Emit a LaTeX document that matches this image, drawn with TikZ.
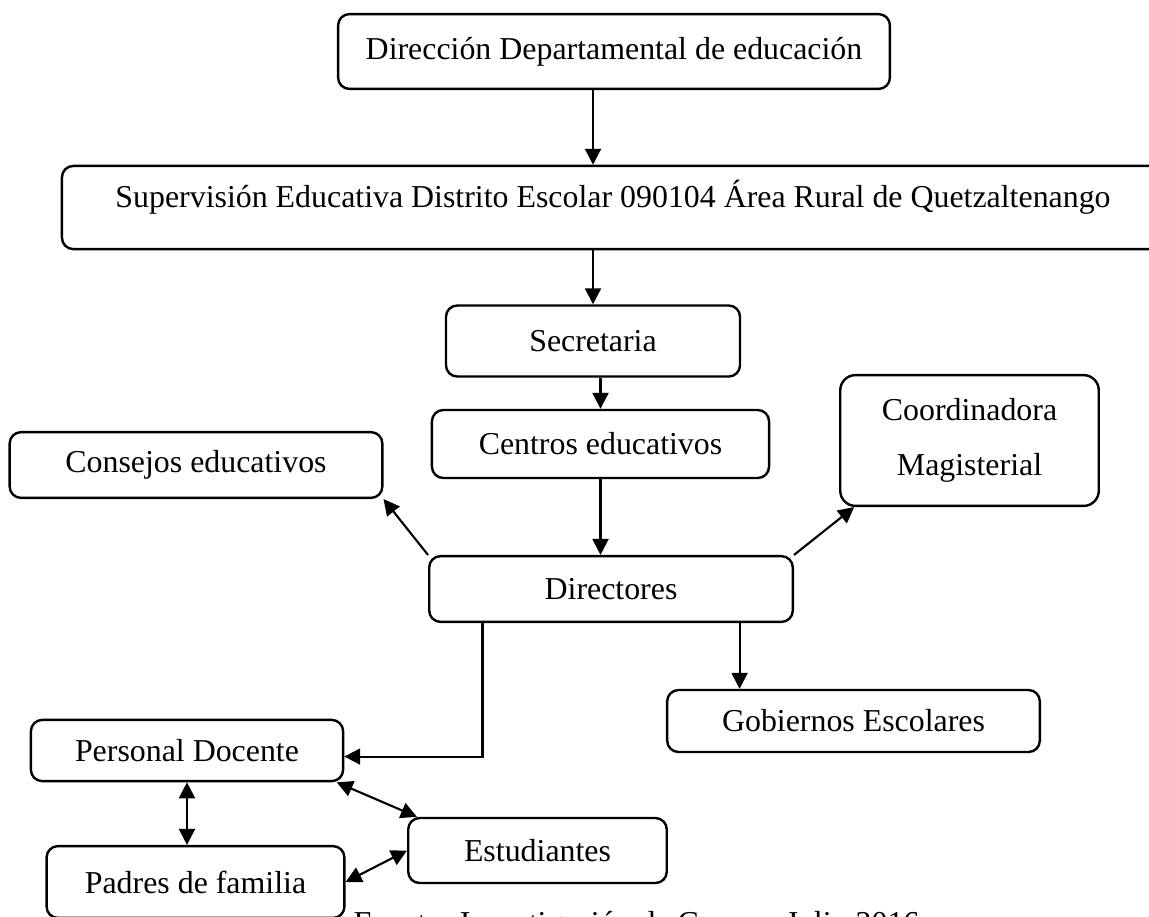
\documentclass[tikz,border=0pt]{standalone}
\usepackage{fontspec}
\setmainfont{Liberation Serif}
\usepackage{tikz}
\usetikzlibrary{shapes, arrows.meta}
\tikzstyle{unidad} = [rectangle, rounded corners=0.15cm, text centered, draw=black, line width=0.9pt, inner sep=2pt]
\tikzstyle{arrow} = [line width=0.8pt,-{Triangle[length=6pt,width=6pt]}]
\tikzstyle{doble} = [line width=0.8pt,{Triangle[length=6pt,width=6pt]}-{Triangle[length=6pt,width=6pt]}]

\begin{document}
\begin{tikzpicture}[x=0.013223cm, y=-0.013223cm, font=\fontsize{12}{20.7}\selectfont]
\useasboundingbox (0,0) rectangle (1149,916);

%Niveles superiores==================================
\node (dir) [unidad, minimum width=7.30cm, minimum height=0.99cm] at (614,51.5) {Dirección Departamental de educación};
\node (sup) [unidad, minimum width=14.58cm, minimum height=1.10cm, text depth=10pt] at (613,207.5) {Supervisión Educativa Distrito Escolar 090104 Área Rural de Quetzaltenango};
\node (sec) [unidad, minimum width=3.89cm, minimum height=0.94cm] at (593,341) {Secretaria};
\node (cen) [unidad, minimum width=4.46cm, minimum height=0.90cm] at (600.5,444) {Centros educativos};

%Nivel de directores=================================
\node (con) [unidad, minimum width=4.93cm, minimum height=0.87cm] at (196,465) {Consejos educativos};
\node (coo) [unidad, align=center, rounded corners=0.2cm, minimum width=3.42cm, minimum height=1.73cm] at (969.5,440.5) {Coordinadora\\Magisterial};
\node (drc) [unidad, minimum width=4.81cm, minimum height=0.87cm] at (611,589) {Directores};
\node (gob) [unidad, minimum width=4.93cm, minimum height=0.82cm] at (853.5,721) {Gobiernos Escolares};

%Comunidad educativa=================================
\node (per) [unidad, minimum width=4.13cm, minimum height=0.81cm] at (187,750.5) {Personal Docente};
\node (pad) [unidad, minimum width=3.94cm, minimum height=0.95cm] at (195.5,882) {Padres de familia};
\node (est) [unidad, minimum width=3.42cm, minimum height=0.86cm] at (537.5,850.5) {Estudiantes};

\node (fuente) [anchor=base west, inner sep=0pt] at (353,933) {Fuente: Investigación de Campo, Julio 2016};
%====================================================
\draw [arrow] (dir.south -| sec.north) -- (sup.north -| sec.north);
\draw [arrow] (sup.south -| sec.north) -- (sec.north);
\draw [arrow] (sec.south -| cen.north) -- (cen.north);
\draw [arrow] (cen.south) -- (cen.south |- drc.north);
\draw [arrow] (drc.north west) -- (con.south east);
\draw [arrow] (drc.north east) -- ([xshift=0.2cm]coo.south west);
\draw [arrow] ([xshift=-0.72cm]drc.south east) -- ([xshift=-0.72cm]drc.south east |- gob.north);
\draw [arrow] ([xshift=0.72cm]drc.south west) |- ([yshift=-0.08cm]per.east);
\draw [doble] (per.south) -- (per.south |- pad.north);
\draw [doble] ([xshift=-0.1cm]per.south east) -- ([xshift=0.13cm]est.north west);
\draw [doble] (pad.east) -- (est.west);
\end{tikzpicture}
\end{document}
